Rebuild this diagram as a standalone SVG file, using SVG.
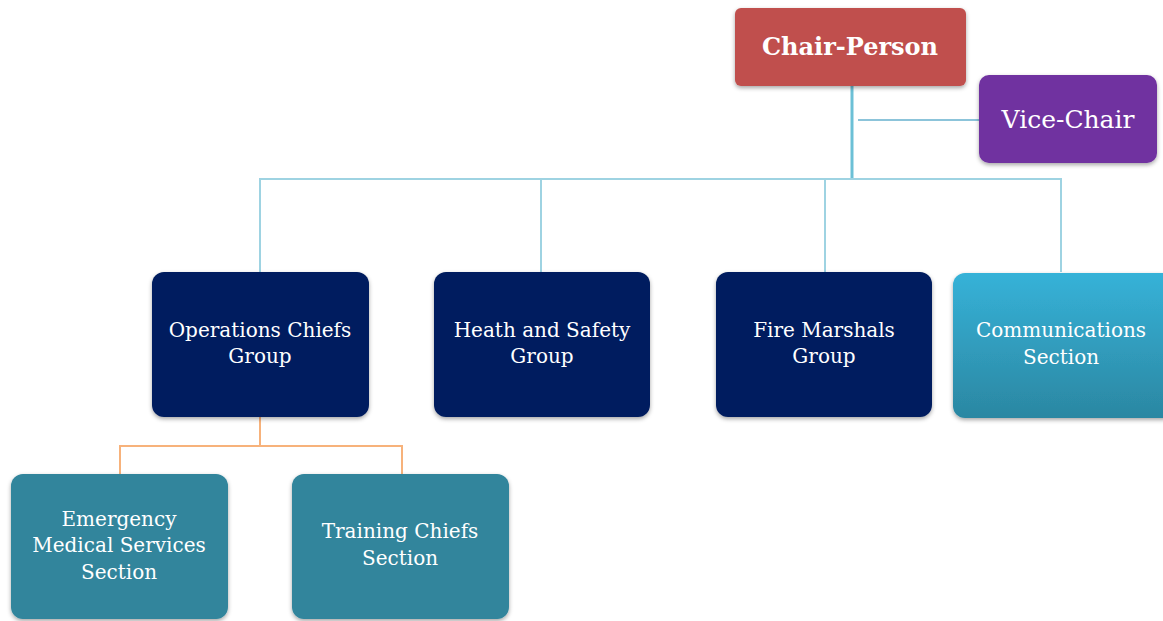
<svg xmlns="http://www.w3.org/2000/svg" width="1163" height="621" viewBox="0 0 1163 621">
<defs>
<linearGradient id="gComm" x1="0" y1="0" x2="0" y2="1">
<stop offset="0" stop-color="#36B2D8"/>
<stop offset="1" stop-color="#2B87A2"/>
</linearGradient>
<filter id="sh" x="-10%" y="-10%" width="120%" height="125%">
<feDropShadow dx="0" dy="2" stdDeviation="2" flood-color="#000" flood-opacity="0.35"/>
</filter>
</defs>
<style>
.box{filter:url(#sh)}
.t{font-family:"DejaVu Serif","Liberation Serif",serif;font-size:20px;fill:#fff;text-anchor:middle}
.b{font-weight:bold;font-size:24px}
.v{font-size:25px}
.c{fill:none;stroke:#9ED3E2;stroke-width:2}
.o{fill:none;stroke:#F7B27B;stroke-width:2}
</style>
<rect width="1163" height="621" fill="#fff"/>
<g id="connectors">
<path class="c" d="M852 86 V179" style="stroke:#6CC0D6;stroke-width:3"/>
<path class="c" d="M858 120 H979" style="stroke:#8CC4DA"/>
<path class="c" d="M260 272 V179 H1061 V272"/>
<path class="c" d="M541 179 V272"/>
<path class="c" d="M825 179 V272"/>
<path class="o" d="M260 417 V446"/>
<path class="o" d="M120 474 V446 H402 V474"/>
</g>
<g id="chair">
<rect class="box" x="735" y="8" width="231" height="78" rx="6" fill="#C0504D"/>
<text class="t b" x="850" y="55">Chair-Person</text>
</g>
<g id="vice">
<rect class="box" x="979" y="75" width="178" height="88" rx="10" fill="#7030A0"/>
<text class="t v" x="1068" y="128">Vice-Chair</text>
</g>
<g id="ops">
<rect class="box" x="152" y="272" width="217" height="145" rx="12" fill="#001F5E"/>
<text class="t" x="260" y="337">Operations Chiefs</text>
<text class="t" x="260" y="363">Group</text>
</g>
<g id="health">
<rect class="box" x="434" y="272" width="216" height="145" rx="12" fill="#001F5E"/>
<text class="t" x="542" y="337">Heath and Safety</text>
<text class="t" x="542" y="363">Group</text>
</g>
<g id="fire">
<rect class="box" x="716" y="272" width="216" height="145" rx="12" fill="#001F5E"/>
<text class="t" x="824" y="337">Fire Marshals</text>
<text class="t" x="824" y="363">Group</text>
</g>
<g id="comm">
<rect class="box" x="953" y="273" width="222" height="145" rx="12" fill="url(#gComm)"/>
<text class="t" x="1061" y="337">Communications</text>
<text class="t" x="1061" y="364">Section</text>
</g>
<g id="ems">
<rect class="box" x="11" y="474" width="217" height="145" rx="12" fill="#31859C"/>
<text class="t" x="119" y="526">Emergency</text>
<text class="t" x="119" y="552">Medical Services</text>
<text class="t" x="119" y="579">Section</text>
</g>
<g id="training">
<rect class="box" x="292" y="474" width="217" height="145" rx="12" fill="#31859C"/>
<text class="t" x="400" y="538">Training Chiefs</text>
<text class="t" x="400" y="565">Section</text>
</g>
</svg>
